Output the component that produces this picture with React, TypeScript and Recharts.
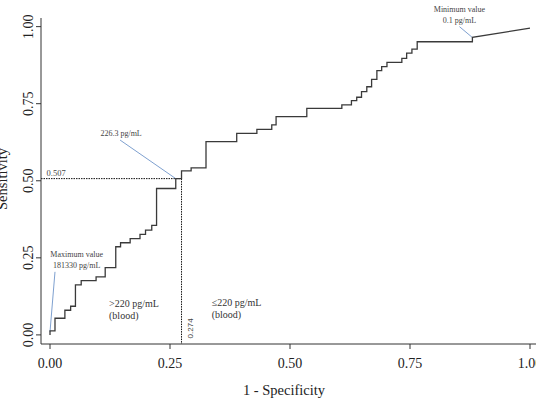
import React from 'react';
import {
  LineChart,
  Line,
  XAxis,
  YAxis,
  Label,
  ReferenceLine,
  ReferenceDot,
} from 'recharts';

// ROC corner points: each point is reached by a horizontal run, then a rise.
// The last pair is joined by a straight tie segment.
const fpr = [
  0, 0, 0.0104, 0.031, 0.043, 0.053, 0.065, 0.096, 0.115, 0.137, 0.147, 0.167,
  0.1875, 0.199, 0.212, 0.222, 0.262, 0.274, 0.294, 0.325, 0.389, 0.431, 0.462,
  0.471, 0.535, 0.608, 0.628, 0.639, 0.649, 0.66, 0.67, 0.681, 0.691, 0.702,
  0.733, 0.743, 0.754, 0.765, 0.88, 1.0,
];
const tpr = [
  0, 0.013, 0.054, 0.08, 0.093, 0.162, 0.176, 0.188, 0.218, 0.286, 0.299, 0.312,
  0.326, 0.34, 0.355, 0.475, 0.507, 0.532, 0.542, 0.627, 0.654, 0.667, 0.681,
  0.708, 0.735, 0.746, 0.76, 0.771, 0.789, 0.805, 0.829, 0.857, 0.87, 0.884,
  0.897, 0.914, 0.927, 0.951, 0.965, 0.995,
];

const xTicks = [0, 0.25, 0.5, 0.75, 1];
const yTicks = [0, 0.25, 0.5, 0.75, 1];

const cutoffFpr = 0.274;
const cutoffTpr = 0.507;

const SERIF = '"Liberation Serif", "Times New Roman", serif';
const LEADER = '#6f95c9';
const AXIS = '#333333';

const curve: { x: number; y: number }[] = [];
fpr.forEach((x, i) => {
  if (i === 0 || i === fpr.length - 1) {
    curve.push({ x, y: tpr[i] });
  } else {
    curve.push({ x, y: tpr[i - 1] });
    curve.push({ x, y: tpr[i] });
  }
});

const XTick = (props: any) => {
  const { x, y, payload } = props;
  return (
    <text x={x} y={y + 18.5} textAnchor="middle" fontFamily={SERIF} fontSize={14} fill="#222">
      {payload.value.toFixed(2)}
    </text>
  );
};

const YTick = (props: any) => {
  const { x, y, payload } = props;
  const bx = x - 3;
  return (
    <text
      x={bx}
      y={y}
      textAnchor="middle"
      fontFamily={SERIF}
      fontSize={14}
      fill="#222"
      transform={`rotate(-90, ${bx}, ${y})`}
    >
      {payload.value.toFixed(2)}
    </text>
  );
};

// text block pinned to a data point, shifted in pixels
const note =
  (lines: string[], dx: number, dy: number, opts: any = {}) =>
  (props: any) => {
    const vb = props.viewBox || {};
    const x = vb.x + dx;
    const y = vb.y + dy;
    const size = opts.size ?? 8;
    const gap = opts.gap ?? size * 1.3;
    return (
      <text
        x={x}
        y={y}
        textAnchor={opts.anchor ?? 'middle'}
        fontFamily={opts.font ?? SERIF}
        fontSize={size}
        fill={opts.fill ?? '#444'}
        transform={opts.rotate ? `rotate(-90, ${x}, ${y})` : undefined}
      >
        {lines.map((t, i) => (
          <tspan key={i} x={x} dy={i === 0 ? 0 : gap}>
            {t}
          </tspan>
        ))}
      </text>
    );
  };

const App: React.FC = () => {
  return (
    <div style={{ position: 'absolute', left: 0, top: 0, background: '#fff' }}>
      <LineChart
        width={536}
        height={403}
        data={curve}
        margin={{ top: 18, right: 0, bottom: 0, left: 0 }}
      >
        <XAxis
          dataKey="x"
          type="number"
          domain={[-0.01875, 1.0125]}
          allowDataOverflow
          ticks={xTicks}
          tickSize={5}
          tickMargin={0}
          height={59}
          axisLine={{ stroke: AXIS }}
          tickLine={{ stroke: AXIS }}
          tick={<XTick />}
        >
          <Label
            content={(p: any) => (
              <text
                x={p.viewBox.x + p.viewBox.width / 2 - 4.5}
                y={p.viewBox.y + 51}
                textAnchor="middle"
                fontFamily={SERIF}
                fontSize={14.5}
                fill="#222"
              >
                1 - Specificity
              </text>
            )}
          />
        </XAxis>
        <YAxis
          type="number"
          domain={[-0.0295, 1.028]}
          allowDataOverflow
          ticks={yTicks}
          tickSize={5}
          tickMargin={0}
          width={41}
          axisLine={{ stroke: AXIS }}
          tickLine={{ stroke: AXIS }}
          tick={<YTick />}
        >
          <Label
            content={(p: any) => {
              const x = 7;
              const y = p.viewBox.y + p.viewBox.height / 2 - 2;
              return (
                <text
                  x={x}
                  y={y}
                  textAnchor="middle"
                  fontFamily={SERIF}
                  fontSize={14.5}
                  fill="#222"
                  transform={`rotate(-90, ${x}, ${y})`}
                >
                  Sensitivity
                </text>
              );
            }}
          />
        </YAxis>

        {/* optimal cut-off guides */}
        <ReferenceLine
          segment={[
            { x: -0.01875, y: cutoffTpr },
            { x: cutoffFpr, y: cutoffTpr },
          ]}
          stroke="#111"
          strokeDasharray="1.5 1"
          strokeWidth={1}
        />
        <ReferenceLine
          segment={[
            { x: cutoffFpr, y: cutoffTpr },
            { x: cutoffFpr, y: -0.0295 },
          ]}
          stroke="#111"
          strokeDasharray="1.5 1"
          strokeWidth={1}
        />

        {/* leader lines */}
        <ReferenceLine
          segment={[
            { x: 0.853, y: 1.0 },
            { x: 0.879, y: 0.966 },
          ]}
          stroke={LEADER}
          strokeWidth={0.9}
        />
        <ReferenceLine
          segment={[
            { x: 0.146, y: 0.632 },
            { x: 0.262, y: cutoffTpr },
          ]}
          stroke={LEADER}
          strokeWidth={0.9}
        />
        <ReferenceLine
          segment={[
            { x: 0.0104, y: 0.2045 },
            { x: 0, y: 0.01 },
          ]}
          stroke={LEADER}
          strokeWidth={0.9}
        />

        <Line
          type="linear"
          dataKey="y"
          stroke="#3a3a3a"
          strokeWidth={1.3}
          dot={false}
          isAnimationActive={false}
        />

        {/* text annotations */}
        <ReferenceDot x={0.853} y={1.0} r={0} fill="none" stroke="none"
          label={note(['Minimum value', '0.1 pg/mL'], 0, -15, { gap: 11 })} />
        <ReferenceDot x={0.146} y={0.632} r={0} fill="none" stroke="none"
          label={note(['226.3 pg/mL'], 1, -4)} />
        <ReferenceDot x={0.0104} y={0.2045} r={0} fill="none" stroke="none"
          label={note(['Maximum value', '181330 pg/mL'], 21.7, -14.5, { gap: 11 })} />
        <ReferenceDot x={0} y={cutoffTpr} r={0} fill="none" stroke="none"
          label={note([cutoffTpr.toFixed(3)], -3.5, -3, { anchor: 'start', size: 8.5 })} />
        <ReferenceDot x={cutoffFpr} y={0} r={0} fill="none" stroke="none"
          label={note([cutoffFpr.toFixed(3)], 11, -6.5, {
            rotate: true,
            font: '"Liberation Sans", Arial, sans-serif',
            size: 8,
          })} />
        <ReferenceDot x={0.123} y={0} r={0} fill="none" stroke="none"
          label={note(['>220 pg/mL', '(blood)'], 0, -27.5, { anchor: 'start', size: 10, gap: 11.5, fill: '#333' })} />
        <ReferenceDot x={0.337} y={0} r={0} fill="none" stroke="none"
          label={note(['≤220 pg/mL', '(blood)'], 0, -28.5, { anchor: 'start', size: 10, gap: 11.5, fill: '#333' })} />
      </LineChart>
    </div>
  );
};

export default App;
